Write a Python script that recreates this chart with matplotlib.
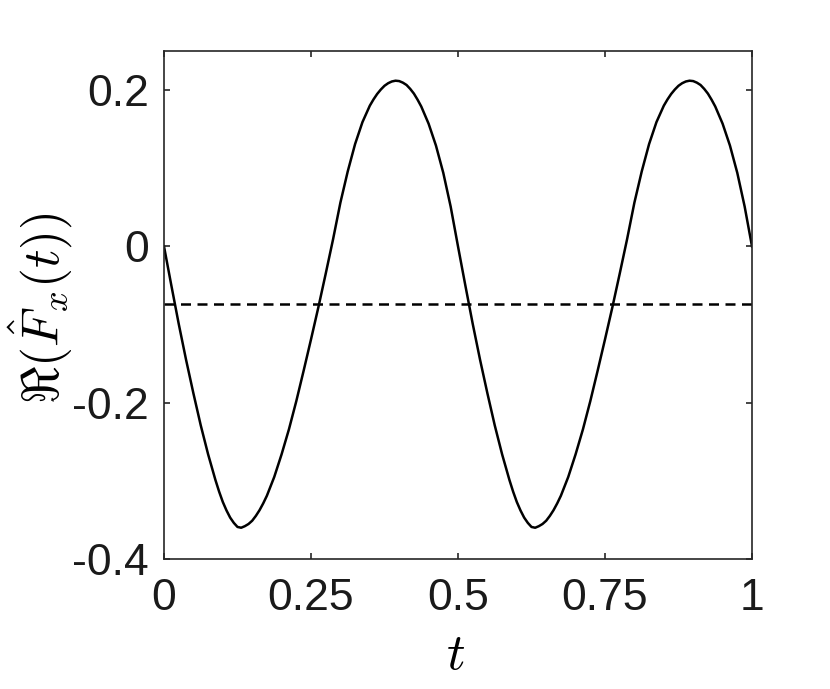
import matplotlib
matplotlib.use('Agg')
import matplotlib.pyplot as plt

# samples of Re(F_x(t)) (denser around the extrema)
t = [
    0.0, 0.0125, 0.025, 0.0375, 0.05, 0.0625, 0.075, 0.0875, 0.09375, 0.1,
    0.10625, 0.1125, 0.11875, 0.125, 0.13125, 0.1375, 0.14375, 0.15, 0.15625, 0.1625,
    0.16875, 0.175, 0.1875, 0.2, 0.2125, 0.225, 0.2375, 0.25, 0.2625, 0.275,
    0.2875, 0.3, 0.3125, 0.325, 0.3375, 0.35, 0.35625, 0.3625, 0.36875, 0.375,
    0.38125, 0.3875, 0.39375, 0.4, 0.40625, 0.4125, 0.41875, 0.425, 0.43125, 0.4375,
    0.45, 0.4625, 0.475, 0.4875,
    0.5, 0.5125, 0.525, 0.5375, 0.55, 0.5625, 0.575, 0.5875, 0.59375, 0.6,
    0.60625, 0.6125, 0.61875, 0.625, 0.63125, 0.6375, 0.64375, 0.65, 0.65625, 0.6625,
    0.66875, 0.675, 0.6875, 0.7, 0.7125, 0.725, 0.7375, 0.75, 0.7625, 0.775,
    0.7875, 0.8, 0.8125, 0.825, 0.8375, 0.85, 0.85625, 0.8625, 0.86875, 0.875,
    0.88125, 0.8875, 0.89375, 0.9, 0.90625, 0.9125, 0.91875, 0.925, 0.93125, 0.9375,
    0.95, 0.9625, 0.975, 0.9875,
    1.0,
]
re_fx = [
    0.000, -0.050, -0.099, -0.145, -0.188, -0.229, -0.266, -0.299, -0.3138, -0.327,
    -0.3378, -0.347, -0.3538, -0.359, -0.360, -0.358, -0.3552, -0.351, -0.3448, -0.3375,
    -0.3288, -0.319, -0.295, -0.266, -0.234, -0.198, -0.159, -0.119, -0.078, -0.035,
    0.009, 0.056, 0.096, 0.131, 0.159, 0.180, 0.188, 0.195, 0.2007, 0.2055,
    0.2088, 0.211, 0.212, 0.2115, 0.2095, 0.2065, 0.2015, 0.1955, 0.1877, 0.179,
    0.157, 0.129, 0.094, 0.051,
    0.000, -0.050, -0.099, -0.145, -0.188, -0.229, -0.266, -0.299, -0.3138, -0.327,
    -0.3378, -0.347, -0.3538, -0.359, -0.360, -0.358, -0.3552, -0.351, -0.3448, -0.3375,
    -0.3288, -0.319, -0.295, -0.266, -0.234, -0.198, -0.159, -0.119, -0.078, -0.035,
    0.009, 0.056, 0.096, 0.131, 0.159, 0.180, 0.188, 0.195, 0.2007, 0.2055,
    0.2088, 0.211, 0.212, 0.2115, 0.2095, 0.2065, 0.2015, 0.1955, 0.1877, 0.179,
    0.157, 0.129, 0.094, 0.051,
    0.000,
]
mean_fx = -0.0736

x_ticks = [0, 0.25, 0.5, 0.75, 1]
x_labels = ['0', '0.25', '0.5', '0.75', '1']
y_ticks = [-0.4, -0.2, 0, 0.2]
y_labels = ['-0.4', '-0.2', '0', '0.2']

plt.rcParams['mathtext.fontset'] = 'cm'
plt.rcParams['font.family'] = ['Liberation Sans', 'DejaVu Sans']

W, H = 830, 689
fig = plt.figure(figsize=(W / 100, H / 100), dpi=100)
ax = fig.add_axes([164 / W, (H - 559) / H, 588 / W, 508 / H])

ax.plot(t, re_fx, color='k', lw=1.8, solid_joinstyle='round')
ax.plot([0, 1], [mean_fx, mean_fx], color='k', lw=1.8, ls=(0, (4.0, 2.6)))

ax.set_xlim(0, 1)
ax.set_ylim(-0.4, 0.25)
ax.set_xticks(x_ticks)
ax.set_xticklabels(x_labels)
ax.set_yticks(y_ticks)
ax.set_yticklabels(y_labels)

axis_col = '#262626'
for s in ax.spines.values():
    s.set_color(axis_col)
    s.set_linewidth(1.2)
ax.tick_params(direction='in', length=4.5, width=1.2, color=axis_col,
               labelsize=32, labelcolor='#1a1a1a', top=True, right=True)
ax.tick_params(axis='x', pad=14)
ax.tick_params(axis='y', pad=11)

fig.text(456 / W, 1 - 656 / H, r'$t$', fontsize=37, ha='center', va='center')
fig.text(41 / W, 1 - 308 / H, r'$\Re(\hat{F}_x(t))$', fontsize=37,
         rotation=90, ha='center', va='center')

fig.savefig('out.png', dpi=100)
